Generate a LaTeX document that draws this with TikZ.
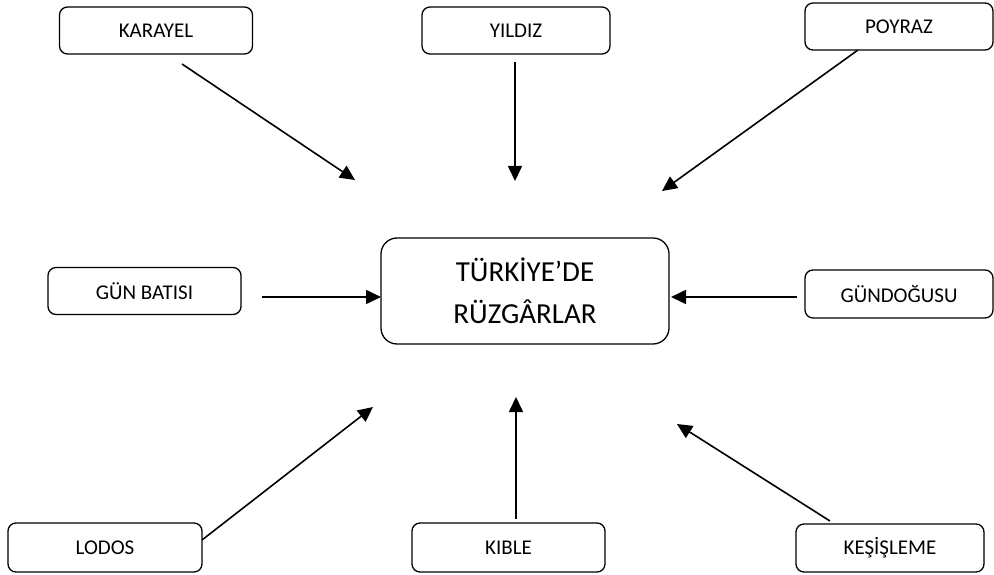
\documentclass[tikz,border=0pt]{standalone}
\usepackage{fontspec}
\setmainfont{Carlito}
\usetikzlibrary{arrows.meta}
\begin{document}
\begin{tikzpicture}[x=1pt,y=-1pt,
  wind/.style={draw=black,line width=1.3pt,rounded corners=8pt,inner sep=0pt,
    font=\fontsize{21}{24}\selectfont},
  hub/.style={draw=black,line width=1.3pt,rounded corners=16pt,inner sep=0pt,
    align=center,font=\fontsize{29}{42}\selectfont},
  flow/.style={line width=1.6pt,-{Triangle[length=15pt,width=14pt]}}]
\useasboundingbox (0,0) rectangle (994,575);

% centre box
\node[hub,minimum width=288pt,minimum height=106pt] (hub) at (525,291) {TÜRKİYE’DE\\RÜZGÂRLAR};

% wind boxes
\node[wind,minimum width=193pt,minimum height=47pt] (karayel) at (156,30.5) {KARAYEL};
\node[wind,minimum width=188pt,minimum height=47pt] (yildiz) at (516,30.5) {YILDIZ};
\node[wind,minimum width=188pt,minimum height=47pt] (poyraz) at (899,26.5) {POYRAZ};
\node[wind,minimum width=193pt,minimum height=47pt] (gunbatisi) at (144.5,291) {GÜN BATISI};
\node[wind,minimum width=188pt,minimum height=48pt] (gundogusu) at (899,294) {GÜNDOĞUSU};
\node[wind,minimum width=194pt,minimum height=49pt] (lodos) at (105,547.5) {LODOS};
\node[wind,minimum width=193pt,minimum height=49pt] (kible) at (508.5,547.5) {KIBLE};
\node[wind,minimum width=188pt,minimum height=48pt] (kesisleme) at (890,548) {KEŞİŞLEME};

% arrow end points around the centre
\coordinate (karayel-s) at (182,64);   \coordinate (karayel-e) at (355,180);
\coordinate (yildiz-s) at (515,62);    \coordinate (yildiz-e) at (515,181);
\coordinate (poyraz-s) at (858,50);    \coordinate (poyraz-e) at (662,191);
\coordinate (gunbatisi-s) at (262,297); \coordinate (gunbatisi-e) at (381,297);
\coordinate (gundogusu-s) at (797,297); \coordinate (gundogusu-e) at (671,297);
\coordinate (lodos-s) at (202,540);    \coordinate (lodos-e) at (373,407);
\coordinate (kible-s) at (516,519);    \coordinate (kible-e) at (516,397);
\coordinate (kesisleme-s) at (830,521); \coordinate (kesisleme-e) at (677,424);

\draw[flow] (karayel-s) -- (karayel-e);
\draw[flow] (yildiz-s) -- (yildiz-e);
\draw[flow] (poyraz-s) -- (poyraz-e);
\draw[flow] (gunbatisi-s) -- (gunbatisi-e);
\draw[flow] (gundogusu-s) -- (gundogusu-e);
\draw[flow] (lodos-s) -- (lodos-e);
\draw[flow] (kible-s) -- (kible-e);
\draw[flow] (kesisleme-s) -- (kesisleme-e);
\end{tikzpicture}
\end{document}
